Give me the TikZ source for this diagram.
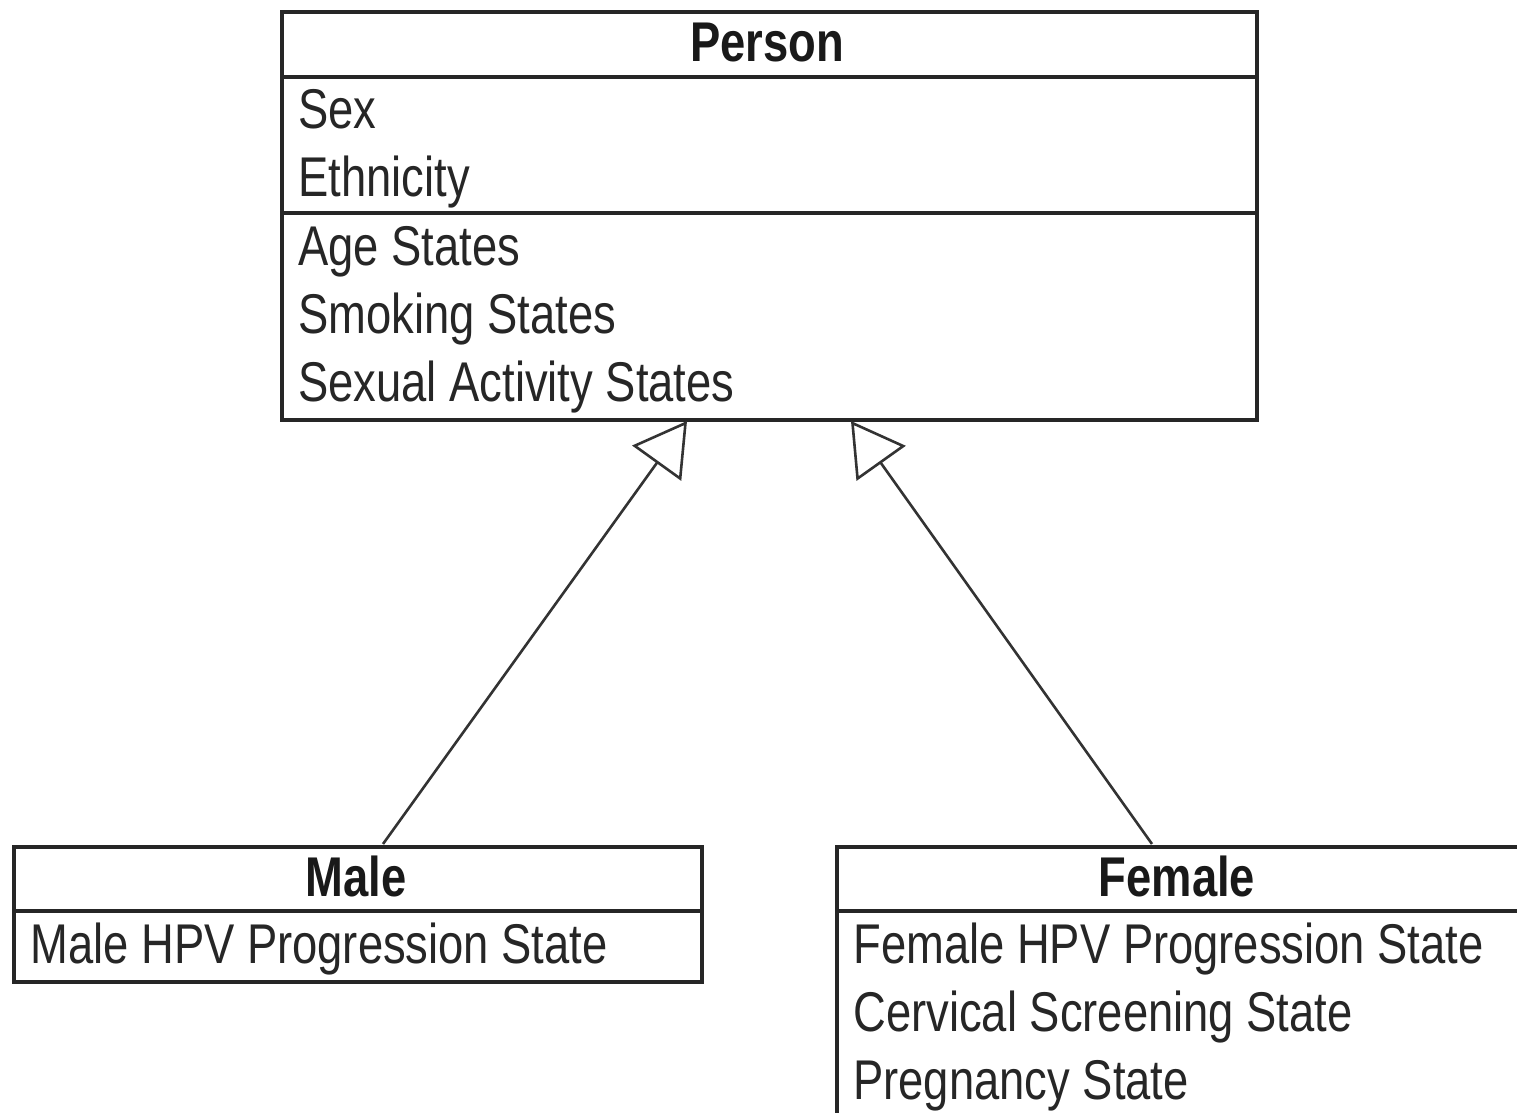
\documentclass[tikz,border=0pt]{standalone}
\usepackage{fontspec}
\setmainfont[FakeStretch=0.81]{Liberation Sans}
\usetikzlibrary{arrows.meta}
\begin{document}
\begin{tikzpicture}[x=0.5pt,y=-0.5pt,
  box/.style={draw=black!85, line width=1.8pt, inner sep=0pt, anchor=north west},
  divider/.style={draw=black!85, line width=1.8pt},
  title/.style={font=\fontsize{28}{34}\selectfont\bfseries, text=black!90, anchor=base, inner sep=0pt},
  attr/.style={font=\fontsize{28}{34}\selectfont, text=black!85, anchor=base west, inner sep=0pt},
  gen/.style={draw=black!80, line width=1.3pt, -{Triangle[open, length=26pt, width=30pt, line width=1.3pt]}}
]
\useasboundingbox (0,0) rectangle (1517,1113);
\clip (0,0) rectangle (1517,1113);
% Person
\node[box, minimum width=487.5pt, minimum height=204pt] (person) at (280,10) {};
\draw[divider] (280,77) -- (1255,77);
\draw[divider] (280,213) -- (1255,213);
\node[title] (ptitle) at (767,62) {Person};
\node[attr] (p1) at (298,129) {Sex};
\node[attr] (p2) at (298,197) {Ethnicity};
\node[attr] (p3) at (298,265) {Age States};
\node[attr] (p4) at (298,333) {Smoking States};
\node[attr] (p5) at (298,401) {Sexual Activity States};
% Male
\node[box, minimum width=344pt, minimum height=67.5pt] (male) at (12,845) {};
\draw[divider] (12,911) -- (700,911);
\node[title] (mtitle) at (356,896) {Male};
\node[attr] (m1) at (30,963) {Male HPV Progression State};
% Female
\node[box, minimum width=360pt, minimum height=160pt] (female) at (835,845) {};
\draw[divider] (835,911) -- (1560,911);
\node[title] (ftitle) at (1177,896) {Female};
\node[attr] (f1) at (853,963) {Female HPV Progression State};
\node[attr] (f2) at (853,1031) {Cervical Screening State};
\node[attr] (f3) at (853,1099) {Pregnancy State};
% generalization arrows
\coordinate (mtop) at (383,844);
\coordinate (ftop) at (1152,844);
\coordinate (ptipL) at (687,421);
\coordinate (ptipR) at (851,421);
\draw[gen] (mtop) -- (ptipL);
\draw[gen] (ftop) -- (ptipR);
\end{tikzpicture}
\end{document}
